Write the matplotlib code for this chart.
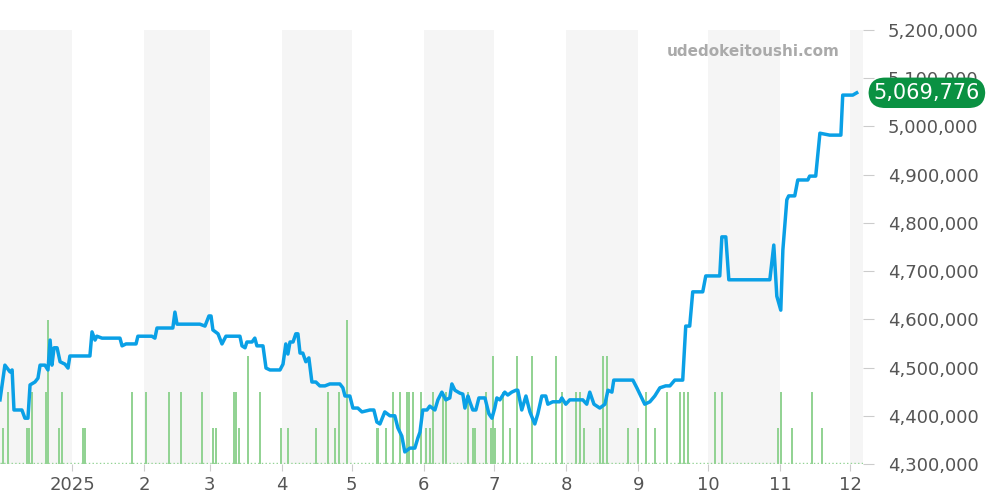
import matplotlib
matplotlib.use("Agg")
import matplotlib.pyplot as plt
from matplotlib.ticker import FuncFormatter

price_days = [0,2.1,4.3,5.2,6,9.4,10.7,12,12.9,15,16.3,17.2,19.3,20.6,21.5,22.3,23.2,24.5,25.8,27.9,29.2,30,38.6,39.5,40.8,41.6,43.8,51.5,52.4,54.1,58.4,59.2,65.2,66.5,67.4,74.2,75.1,76,85.8,88,89.7,90.6,91.4,93.6,95.3,97,101.3,103,103.9,105.2,106,108.2,109.4,110.3,112.9,114.2,115.9,120.2,121.5,122.7,123.6,124.5,125.8,127,127.9,128.8,130,131.3,132.6,133.9,135.6,137.3,139.5,141.6,145.9,147.2,148.1,150.2,151.5,153.6,155.4,158.8,160.5,161.8,163.1,165.2,167.4,169.5,170.8,172.5,173.8,176,178.1,179.4,180.3,181.5,183.3,184.5,186.7,188,189.7,191.4,193.1,194,195.3,197.4,198.7,199.6,200.9,201.7,203,204.3,205.6,206.9,208.2,209.9,211.2,212.4,213.3,214.6,216.7,218,219.7,221.5,222.3,224,225.8,227.5,229.6,230.9,232.6,234.3,235.2,237.3,240.3,241.2,242.9,244.6,248.1,250.2,251.9,253.2,255,257.5,259.7,261,262.7,263.5,268.2,271.7,273.4,275.1,276.8,279,281.1,283.3,285.8,287.6,289.7,293.1,294.4,296.1,297.4,301.7,303,309,309.9,311.6,312.9,330.5,332.2,333.5,335.2,336.1,337.8,338.6,341.2,342.5,346.8,347.6,350.2,352,354.1,356.2,361,361.8,364,366.1,367.8]
price_k = [4433,4505,4491,4495,4412,4412,4395,4395,4464,4470,4478,4505,4505,4495,4557,4505,4541,4541,4512,4507,4499,4524,4524,4574,4557,4565,4561,4561,4545,4549,4549,4565,4565,4561,4582,4582,4615,4590,4590,4586,4607,4607,4578,4570,4549,4565,4565,4565,4545,4541,4553,4553,4561,4545,4545,4499,4495,4495,4507,4549,4528,4553,4553,4570,4570,4530,4530,4512,4520,4470,4470,4462,4462,4466,4466,4458,4441,4441,4416,4416,4408,4412,4412,4387,4383,4408,4400,4400,4375,4358,4325,4333,4333,4354,4366,4412,4412,4420,4412,4433,4449,4433,4437,4466,4453,4447,4445,4416,4441,4429,4412,4412,4437,4437,4437,4404,4395,4416,4437,4433,4449,4443,4449,4453,4453,4412,4441,4408,4383,4404,4441,4441,4424,4429,4429,4437,4424,4433,4433,4433,4424,4449,4424,4416,4424,4453,4449,4474,4474,4474,4458,4441,4424,4429,4441,4458,4462,4462,4474,4474,4586,4586,4657,4657,4690,4690,4771,4771,4682,4682,4754,4648,4619,4744,4848,4856,4856,4889,4889,4897,4897,4986,4984,4982,4982,5065,5065,5065,5069.776]

vol_days = [1.3,3.4,11.6,12.4,13.7,19.7,20.6,25.3,26.6,35.6,36.5,56.6,62.6,72.5,77.7,86.7,91.4,92.7,100.4,101.3,102.6,106.4,111.6,120.6,123.6,135.6,140.8,143.8,145.5,148.9,161.8,162.2,165.7,168.7,171.7,174.7,175.5,177.3,180.7,182.8,184.5,185.8,190.1,191.4,200.9,203,203.9,208.6,210.7,211.6,212.4,
            215.9,218.9,221.9,228.3,238.6,241.2,247.2,248.9,250.6,257.5,258.8,260.5,269.5,273.8,277.3,281.1,286.3,291.8,293.6,295.3,306.9,309.9,333.9,335.2,339.9,348.5,352.8]
vol_counts = [1,2,1,1,2,2,4,1,2,1,1,2,2,2,2,2,1,1,2,2,1,3,2,1,1,1,2,1,2,4,1,1,1,2,2,2,2,2,2,1,1,2,2,2,2,1,1,2,1,3,1,
              2,1,3,3,3,2,2,2,1,1,3,3,1,1,2,1,2,2,2,2,2,2,1,2,1,2,1]

month_days = [31,62,90,121,151,182,212,243,274,304,335,365]
month_labels = ["2025","2","3","4","5","6","7","8","9","10","11","12"]
shade_spans = [(0,31),(62,90),(121,151),(182,212),(243,274),(304,335),(365,371)]
last_value = 5069776

fig = plt.figure(figsize=(10,5), dpi=100)
ax = fig.add_axes([0, 0.072, 0.863, 0.868])
for a,b in shade_spans:
    ax.axvspan(a,b,color="#f5f5f5",zorder=0,lw=0)
ax.set_xlim(0,370.5)
ax.set_ylim(4300000,5200000)
ax.set_yticks([4300000+i*100000 for i in range(10)])
ax.grid(axis="y",color="#dddddd",lw=0.8)
ax.set_axisbelow(True)

ax2 = ax.twinx()
ax2.set_ylim(0,12.06)
ax2.bar(vol_days, vol_counts, width=0.7, color="#93d394", zorder=1)
ax2.axhline(0.02, color="#93d394", lw=1, ls=":")
ax2.set_yticks([])
for s in ax2.spines.values(): s.set_visible(False)

ax3 = ax.twinx()
ax3.set_ylim(4300000,5200000)
ax3.plot(price_days,[v*1000 for v in price_k],color="#0aa0e6",lw=2.5,zorder=3)
ax3.set_yticks([4300000+i*100000 for i in range(10)])
ax3.yaxis.set_major_formatter(FuncFormatter(lambda v,p: f"{int(v):,}"))
ax3.tick_params(axis="y",length=8,color="#cccccc",labelsize=13,labelcolor="#555555",pad=10)
for a_ in (ax,ax3):
    for s in a_.spines.values(): s.set_visible(False)
ax.set_yticks([])
ax.set_xticks(month_days)
ax.set_xticklabels(month_labels)
ax.tick_params(axis="x",length=5,color="#cccccc",labelsize=13,labelcolor="#555555")

ax3.text(0.973,0.95,"udedokeitoushi.com",transform=ax3.transAxes,ha="right",va="center",
         fontsize=11,fontweight="bold",color="#aaaaaa")
ax3.annotate(f"{last_value:,}",xy=(1.0,last_value),xycoords=("axes fraction","data"),
             xytext=(46,0),textcoords="offset points",ha="center",va="center",fontsize=15,color="white",
             bbox=dict(boxstyle="round,pad=0.25,rounding_size=0.8",fc="#0a9142",ec="none"),annotation_clip=False)
fig.savefig("out.png")
